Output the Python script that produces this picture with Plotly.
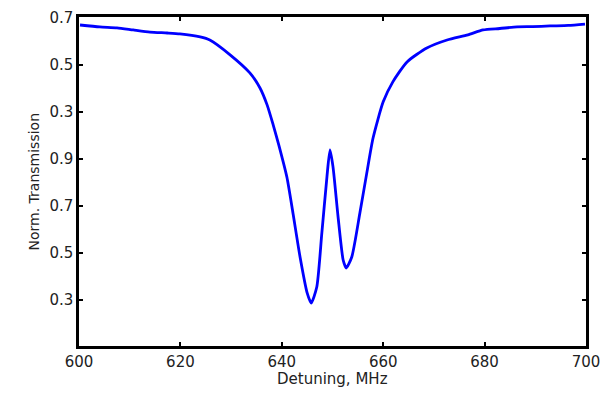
import plotly.graph_objects as go

# Detuning (MHz) and transmission in the chart's own (stacked) axis units
detuning = [600.2, 604.1, 607.5, 610.7, 614.0, 617.4, 619.9, 623.9, 625.8, 629.8,
            633.7, 635.7, 637.1, 638.3, 639.4, 641.0, 642.2, 643.6, 645.0, 645.8,
            646.9, 647.9, 648.9, 649.5, 650.1, 651.1, 652.1, 652.7, 653.8, 655.4,
            656.8, 658.0, 660.0, 661.9, 664.7, 668.6, 672.6, 676.7, 679.7, 683.0,
            686.4, 689.5, 692.9, 696.5, 699.8]
transmission = [1.470, 1.462, 1.458, 1.449, 1.440, 1.436, 1.432, 1.419, 1.406, 1.343,
                1.266, 1.202, 1.130, 1.045, 0.960, 0.823, 0.670, 0.483, 0.330, 0.287,
                0.355, 0.585, 0.823, 0.938, 0.866, 0.653, 0.470, 0.436, 0.483, 0.670,
                0.845, 0.989, 1.143, 1.228, 1.313, 1.372, 1.406, 1.428, 1.449, 1.455,
                1.462, 1.463, 1.466, 1.468, 1.474]

x_ticks = [600, 620, 640, 660, 680, 700]
y_tickvals = [0.3, 0.5, 0.7, 0.9, 1.1, 1.3, 1.5]
y_ticktext = ["0.3", "0.5", "0.7", "0.9", "0.3", "0.5", "0.7"]

fig = go.Figure()
fig.add_trace(go.Scatter(
    x=detuning, y=transmission, mode="lines",
    line=dict(color="#0000ff", width=2.8, shape="spline", smoothing=0.6),
    showlegend=False,
))

font = dict(family="DejaVu Sans, Arial, sans-serif", size=15, color="#222222")

fig.update_layout(
    width=613, height=393,
    margin=dict(l=79, r=27, t=17, b=47, autoexpand=False),
    paper_bgcolor="white", plot_bgcolor="white",
    font=font,
    xaxis=dict(
        range=[600, 700], tickvals=x_ticks, automargin=False,
        ticks="inside", ticklen=4, tickwidth=1.5, tickcolor="black",
        showline=True, linecolor="black", linewidth=2.5, mirror="ticks",
        showgrid=False, zeroline=False,
        tickfont=font,
    ),
    yaxis=dict(
        range=[0.104, 1.504], tickvals=y_tickvals, ticktext=y_ticktext, automargin=False,
        ticks="inside", ticklen=4, tickwidth=1.5, tickcolor="black",
        showline=True, linecolor="black", linewidth=2.5, mirror="ticks",
        showgrid=False, zeroline=False,
        tickfont=font,
    ),
    annotations=[
        dict(text="Detuning, MHz", xref="paper", yref="paper", x=0.5, y=0,
             xanchor="center", yanchor="middle", yshift=-33, showarrow=False,
             font=font),
        dict(text="Norm. Transmission", xref="paper", yref="paper", x=0, y=0.5,
             xanchor="center", yanchor="middle", xshift=-46, textangle=-90,
             showarrow=False, font=dict(family=font["family"], size=14, color="#222222")),
    ],
)

fig.write_html("out.html", config={"displayModeBar": False},
               post_script="document.body.style.margin='0';document.body.style.overflow='hidden';")
